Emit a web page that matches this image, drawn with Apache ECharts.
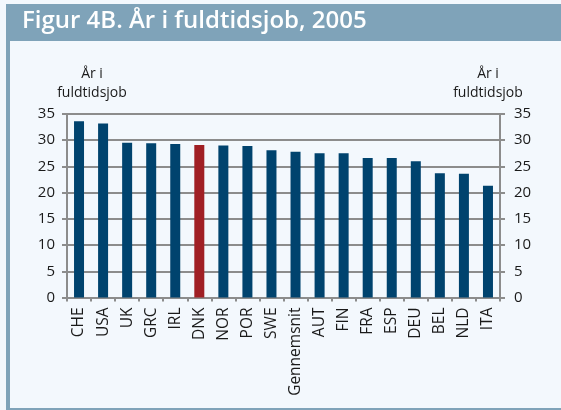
<!DOCTYPE html>
<html><head><meta charset="utf-8">
<script src="https://cdn.jsdelivr.net/npm/echarts@6/dist/echarts.min.js"></script>
<style>html,body{margin:0;padding:0;background:#f3f8fd}#c{width:561px;height:410px}</style>
</head><body><div id="c"></div>
<script>
const categories = ['CHE','USA','UK','GRC','IRL','DNK','NOR','POR','SWE','Gennemsnit','AUT','FIN','FRA','ESP','DEU','BEL','NLD','ITA'];
const values = [33.6,33.2,29.5,29.4,29.3,29.1,29.0,28.9,28.1,27.8,27.5,27.5,26.6,26.6,26.0,23.7,23.6,21.3];
const highlight = 'DNK';
const yTicks = [0,5,10,15,20,25,30,35];
const titleText = 'Figur 4B. År i fuldtidsjob, 2005';
const axisName = 'År i\nfuldtidsjob';

const chart = echarts.init(document.getElementById('c'), null, {renderer:'canvas'});
const gridColor = '#8c8c8c';
const yAxisBase = {
  type:'value', min:yTicks[0], max:yTicks[yTicks.length-1], interval:5,
  nameLocation:'end', nameGap:11,
  axisLine:{show:true, lineStyle:{color:gridColor, width:2}},
  axisTick:{show:true, length:5, lineStyle:{color:gridColor, width:2}},
  splitLine:{show:true, lineStyle:{color:gridColor, width:2}},
  axisLabel:{color:'#1a1a1a', fontSize:15, fontFamily:'Open Sans'}
};
chart.setOption({
  backgroundColor:'#f3f8fd',
  animation:false,
  graphic:[
    {type:'rect', shape:{x:6,y:4,width:555,height:37}, style:{fill:'#7fa3b9'}},
    {type:'rect', shape:{x:6,y:4,width:4,height:406}, style:{fill:'#7fa3b9'}},
    {type:'rect', shape:{x:6,y:408,width:555,height:2}, style:{fill:'#7fa3b9'}},
    {type:'text', left:22, top:9, style:{text:titleText, fill:'#ffffff', font:'600 24px "Open Sans"'}}
  ],
  grid:{left:67, right:61, top:114, bottom:112.5},
  xAxis:{
    type:'category', data:categories,
    axisLine:{lineStyle:{color:gridColor, width:2}},
    axisTick:{show:true, length:4, alignWithLabel:false, lineStyle:{color:gridColor, width:2}},
    axisLabel:{rotate:90, color:'#1a1a1a', fontSize:15.5, fontFamily:'Open Sans', margin:10, interval:0}
  },
  yAxis:[
    Object.assign({}, yAxisBase, {position:'left', name:axisName,
      nameTextStyle:{color:'#1a1a1a', fontSize:14, fontFamily:'Open Sans', lineHeight:19, align:'center', verticalAlign:'bottom', padding:[0,0,0,50]},
      axisLabel:Object.assign({}, yAxisBase.axisLabel, {margin:12})}),
    Object.assign({}, yAxisBase, {position:'right', name:axisName,
      nameTextStyle:{color:'#1a1a1a', fontSize:14, fontFamily:'Open Sans', lineHeight:19, align:'center', verticalAlign:'bottom', padding:[0,24,0,0]},
      splitLine:{show:false},
      axisLabel:Object.assign({}, yAxisBase.axisLabel, {margin:14})})
  ],
  series:[{
    type:'bar', barWidth:10,
    data:values.map((v,i)=>({value:v, itemStyle:{color: categories[i]===highlight ? '#a01f24' : '#00436e'}}))
  }]
});
</script></body></html>
